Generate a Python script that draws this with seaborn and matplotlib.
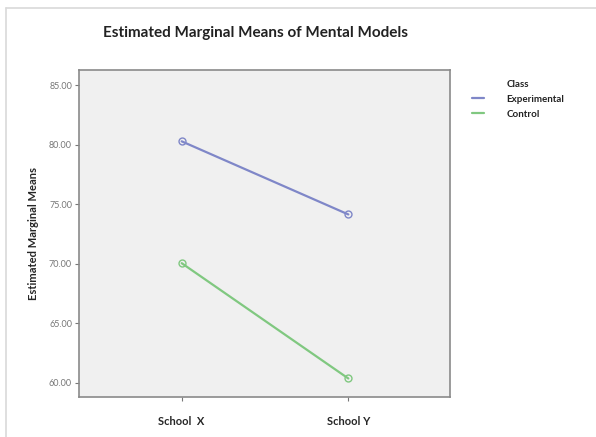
import pandas as pd
import matplotlib.pyplot as plt
import seaborn as sns
from matplotlib.lines import Line2D

sns.set_style('white')
plt.rcParams['font.family'] = ['Lato', 'DejaVu Sans']

# Estimated marginal means
schools = ['School  X', 'School Y']
experimental = [80.30, 74.15]
control = [70.05, 60.35]
classes = ['Experimental', 'Control']
colors = {'Experimental': '#7f87c8', 'Control': '#80c880'}

df = pd.DataFrame({
    'School': schools * 2,
    'Mean': experimental + control,
    'Class': [classes[0]] * 2 + [classes[1]] * 2,
})

fig = plt.figure(figsize=(5.96, 4.37), dpi=100)
ax = fig.add_axes([0.1326, 0.0904, 0.6224, 0.7494])

sns.lineplot(data=df, x='School', y='Mean', hue='Class', palette=colors,
             marker='o', markersize=5, markerfacecolor='none',
             markeredgewidth=1.0, linewidth=1.6, legend=False, ax=ax, sort=False)
# open markers coloured like their line
for line in ax.lines:
    line.set_markeredgecolor(line.get_color())

ax.set_facecolor('#f0f0f0')
ax.set_xlim(-0.616, 1.61)
ax.set_ylim(58.75, 86.3)
ax.set_yticks([60, 65, 70, 75, 80, 85])
ax.set_yticklabels([f'{v:.2f}' for v in [60, 65, 70, 75, 80, 85]])
for s in ax.spines.values():
    s.set_color('#8a8a8a')
    s.set_linewidth(1.2)
ax.tick_params(axis='y', direction='out', length=3, width=0.8, color='#777777',
               labelsize=6.5, labelcolor='#777777', pad=2, left=True)
ax.tick_params(axis='x', direction='out', length=3, width=0.8, color='#777777',
               labelsize=8, pad=10, bottom=True)
for lbl in ax.get_xticklabels():
    lbl.set_fontweight('bold')
ax.set_xlabel('')
ax.set_ylabel('Estimated Marginal Means', fontsize=8, fontweight='bold', labelpad=7)

fig.text(0.428, 0.925, 'Estimated Marginal Means of Mental Models',
         ha='center', va='center', fontsize=11, fontweight='bold', color='#222222')

# legend with the title aligned to the label column
handles = [Line2D([], [], color='none', label='Class')]
handles += [Line2D([], [], color=colors[c], linewidth=1.6, label=c) for c in classes]
leg = fig.legend(handles=handles, loc='upper left', bbox_to_anchor=(0.785, 0.826),
                 frameon=False, fontsize=7, handlelength=1.3, handletextpad=2.3,
                 labelspacing=0.6, borderaxespad=0)
for t in leg.get_texts():
    t.set_color('#222222')
    t.set_fontweight('bold')

# outer chart frame (top and left)
fig.add_artist(Line2D([0.0101, 1.0], [0.981, 0.981], transform=fig.transFigure,
                      color='#d9d9d9', linewidth=1.2))
fig.add_artist(Line2D([0.0101, 0.0101], [0.0, 0.981], transform=fig.transFigure,
                      color='#d9d9d9', linewidth=1.2))

fig.savefig('out.png', dpi=100)
